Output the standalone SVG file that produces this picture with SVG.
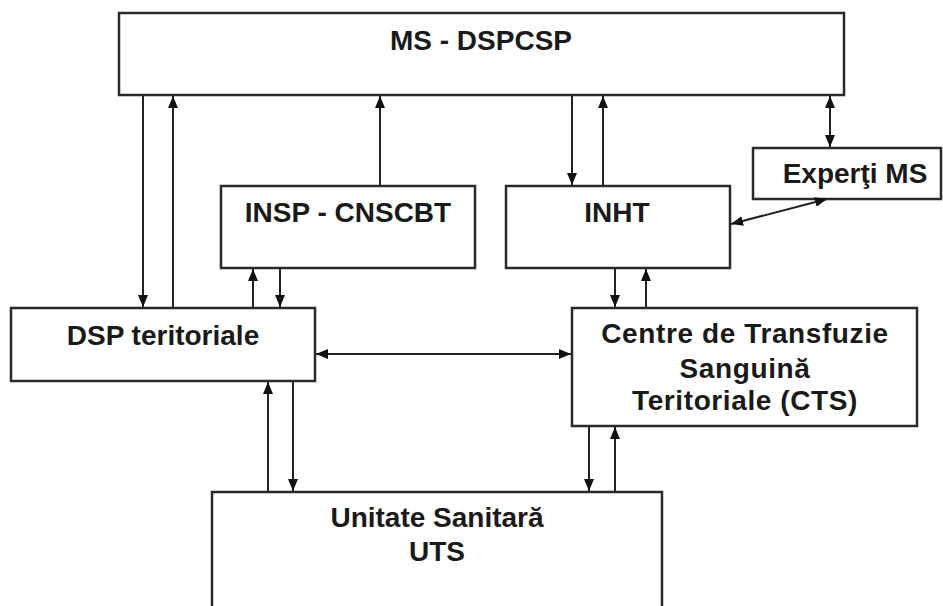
<svg xmlns="http://www.w3.org/2000/svg" width="943" height="606" viewBox="0 0 943 606">
<style>
.box{fill:#fff;stroke:#2a2a2a;stroke-width:2.5}
.t{font-family:"Liberation Sans",Arial,sans-serif;font-weight:bold;font-size:28px;fill:#1a1a1a;text-anchor:middle}
.sp{letter-spacing:0.6px}
.c{fill:none;stroke:#222;stroke-width:2}
</style>
<defs>
<marker id="ah" viewBox="0 0 12 10" refX="12" refY="5" markerWidth="12" markerHeight="10" markerUnits="userSpaceOnUse" orient="auto-start-reverse">
<path d="M0,0 L12,5 L0,10 z" fill="#111"/>
</marker>
</defs>
<rect width="943" height="606" fill="#fff"/>
<g id="ms"><rect class="box" x="119" y="13" width="725" height="82"/><text class="t" x="481" y="50">MS - DSPCSP</text></g>
<g id="insp"><rect class="box" x="221" y="186" width="254" height="82"/><text class="t" x="348" y="222">INSP - CNSCBT</text></g>
<g id="inht"><rect class="box" x="506" y="186" width="224" height="82"/><text class="t" x="617" y="222">INHT</text></g>
<g id="experti"><rect class="box" x="753" y="148" width="188" height="51"/><text class="t" x="855" y="183">Experţi MS</text></g>
<g id="dsp"><rect class="box" x="11" y="308" width="304" height="73"/><text class="t" x="163" y="345">DSP teritoriale</text></g>
<g id="cts"><rect class="box" x="572" y="308" width="345" height="118"/><text class="t sp" x="745" y="343">Centre de Transfuzie</text><text class="t sp" x="745" y="378">Sanguină</text><text class="t sp" x="745" y="410">Teritoriale (CTS)</text></g>
<g id="uts"><rect class="box" x="212" y="492" width="450" height="130"/><text class="t" x="437" y="527">Unitate Sanitară</text><text class="t" x="437" y="561">UTS</text></g>
<g id="connectors">
<line class="c" x1="143" y1="96" x2="143" y2="307" marker-end="url(#ah)"/>
<line class="c" x1="173" y1="307" x2="173" y2="96" marker-end="url(#ah)"/>
<line class="c" x1="380" y1="185" x2="380" y2="96" marker-end="url(#ah)"/>
<line class="c" x1="253" y1="307" x2="253" y2="269" marker-end="url(#ah)"/>
<line class="c" x1="280" y1="269" x2="280" y2="307" marker-end="url(#ah)"/>
<line class="c" x1="572" y1="96" x2="572" y2="185" marker-end="url(#ah)"/>
<line class="c" x1="603" y1="185" x2="603" y2="96" marker-end="url(#ah)"/>
<line class="c" x1="830" y1="96" x2="830" y2="147" marker-start="url(#ah)" marker-end="url(#ah)"/>
<line class="c" x1="731" y1="224" x2="827" y2="199" marker-start="url(#ah)" marker-end="url(#ah)"/>
<line class="c" x1="615" y1="269" x2="615" y2="307" marker-end="url(#ah)"/>
<line class="c" x1="646" y1="307" x2="646" y2="269" marker-end="url(#ah)"/>
<line class="c" x1="316" y1="354" x2="571" y2="354" marker-start="url(#ah)" marker-end="url(#ah)"/>
<line class="c" x1="268" y1="491" x2="268" y2="382" marker-end="url(#ah)"/>
<line class="c" x1="293" y1="382" x2="293" y2="491" marker-end="url(#ah)"/>
<line class="c" x1="589" y1="427" x2="589" y2="491" marker-end="url(#ah)"/>
<line class="c" x1="615" y1="491" x2="615" y2="427" marker-end="url(#ah)"/>
</g>
</svg>
